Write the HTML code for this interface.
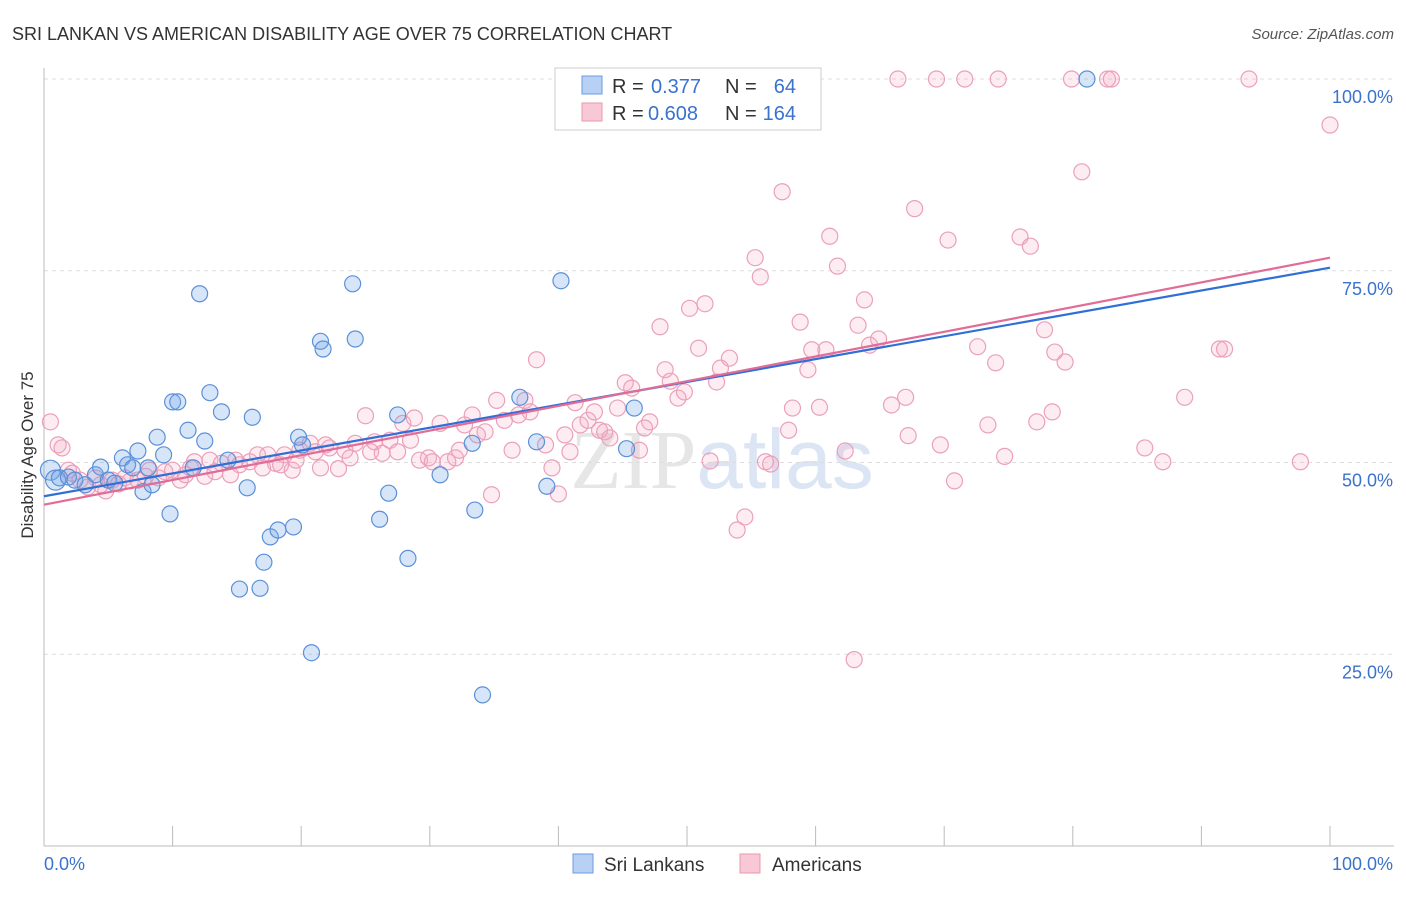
<!DOCTYPE html>
<html><head><meta charset="utf-8"><style>
body{margin:0;background:#fff;font-family:"Liberation Sans",sans-serif;}
svg text{font-family:"Liberation Sans",sans-serif;}
</style></head><body>
<svg id="chart" width="1406" height="892" xmlns="http://www.w3.org/2000/svg">
<text x="12" y="40" font-size="18" fill="#333">SRI LANKAN VS AMERICAN DISABILITY AGE OVER 75 CORRELATION CHART</text>
<text x="1394" y="39" font-size="15" fill="#555" text-anchor="end" font-style="italic">Source: ZipAtlas.com</text>
<text x="722" y="488" font-size="84" text-anchor="middle"><tspan fill="#e6e6e6" font-family="Liberation Serif">ZIP</tspan><tspan fill="#dbe5f4">atlas</tspan></text>
<g id="grid"></g>
<g id="axes"></g>
<g id="pts"></g>
<g id="trends"></g>
<text transform="translate(33,455) rotate(-90)" font-size="17" fill="#333" text-anchor="middle">Disability Age Over 75</text>
<g>
<rect x="555" y="68" width="266" height="62" fill="#fff" stroke="#ccc"/>
<rect x="582" y="76" width="20" height="18" fill="#b8d0f3" stroke="#6a9be0"/>
<text x="612" y="93" font-size="20" fill="#333">R =</text>
<text x="651" y="93" font-size="20" fill="#3a72cc">0.377</text>
<text x="725" y="93" font-size="20" fill="#333">N =</text>
<text x="796" y="93" font-size="20" fill="#3a72cc" text-anchor="end">64</text>
<rect x="582" y="103" width="20" height="18" fill="#f8c8d6" stroke="#e899b2"/>
<text x="612" y="120" font-size="20" fill="#333">R =</text>
<text x="648" y="120" font-size="20" fill="#3a72cc">0.608</text>
<text x="725" y="120" font-size="20" fill="#333">N =</text>
<text x="796" y="120" font-size="20" fill="#3a72cc" text-anchor="end">164</text>
</g>
<g>
<rect x="573" y="854" width="20" height="19" fill="#b8d0f3" stroke="#6a9be0"/>
<text x="604" y="871" font-size="19" fill="#333">Sri Lankans</text>
<rect x="740" y="854" width="20" height="19" fill="#f8c8d6" stroke="#e899b2"/>
<text x="772" y="871" font-size="19" fill="#333">Americans</text>
</g>
</svg>
<script>
const yTicks=[25,50,75,100];
const yTickLabels=["25.0%","50.0%","75.0%","100.0%"];
const blueX=[0.5,0.9,1.2,1.9,2.4,3.2,4.0,4.4,5.0,5.5,6.1,6.5,6.9,7.3,7.7,8.1,8.4,8.8,9.3,9.8,10.0,10.4,11.2,11.6,12.1,12.5,12.9,13.8,14.3,15.8,16.2,17.1,15.2,16.8,17.6,18.2,19.4,19.8,20.1,20.8,21.5,21.7,24.0,24.2,26.1,26.8,27.5,28.3,30.8,33.3,33.5,34.1,37.0,38.3,39.1,40.2,45.3,45.9,81.1];
const blueY=[49.0,47.7,48.0,48.1,47.7,47.1,48.4,49.4,47.7,47.3,50.6,49.7,49.3,51.5,46.2,49.3,47.1,53.3,51.0,43.3,57.9,57.9,54.2,49.3,72.0,52.8,59.1,56.6,50.3,46.7,55.9,37.0,33.5,33.6,40.3,41.2,41.6,53.3,52.3,25.2,65.8,64.8,73.3,66.1,42.6,46.0,56.2,37.5,48.4,52.5,43.8,19.7,58.5,52.7,46.9,73.7,51.8,57.1,100];
const pinkX=[0.5,1.1,1.4,1.9,2.2,2.8,3.4,4.0,4.4,4.8,5.3,5.8,6.3,6.7,7.3,7.9,8.2,8.9,9.4,10.0,10.6,11.0,11.4,11.7,12.5,12.9,13.3,13.8,14.5,14.9,15.2,16.0,16.6,17.0,17.4,18.0,18.4,18.7,19.3,19.6,19.9,20.7,21.1,21.5,21.9,22.2,22.9,23.4,23.8,24.2,25.0,25.4,25.7,26.3,26.9,27.5,27.9,28.5,28.8,29.2,29.9,30.2,30.8,31.4,32.0,32.3,32.7,33.3,33.7,34.3,34.8,35.2,35.8,36.4,36.9,37.4,37.8,38.3,39.0,39.5,40.0,40.5,40.9,41.3,41.7,42.3,42.8,43.2,43.6,44.0,44.6,45.2,45.7,46.3,46.7,47.1,47.9,48.3,48.7,49.3,49.8,50.2,50.9,51.4,51.8,52.3,52.6,53.3,53.9,54.5,55.3,55.7,56.1,56.5,57.4,57.9,58.2,58.8,59.4,59.7,60.3,60.8,61.1,61.7,62.3,63.0,63.3,63.8,64.2,64.9,65.9,66.4,67.0,67.2,67.7,69.4,69.7,70.3,70.8,71.6,72.6,73.4,74.0,74.2,74.7,75.9,76.7,77.2,77.8,78.4,78.6,79.4,79.9,80.7,82.7,83.0,85.6,87.0,88.7,91.4,91.8,93.7,97.7,100];
const pinkY=[55.3,52.3,51.9,49.0,48.6,47.7,46.8,48.0,47.1,46.3,47.7,47.2,48.0,47.6,47.7,48.2,49.0,48.0,48.8,49.0,47.7,48.4,49.3,50.1,48.2,50.3,48.8,49.9,48.4,50.3,49.7,50.1,51.0,49.3,51.0,49.9,49.7,51.0,49.0,50.3,51.6,52.5,51.4,49.3,52.3,51.9,49.2,51.6,50.6,52.5,56.1,51.4,52.7,51.2,52.9,51.4,55.1,52.9,55.8,50.3,50.6,50.1,55.1,50.1,50.6,51.6,54.9,56.2,53.6,54.0,45.8,58.1,55.5,51.6,56.2,58.1,56.6,63.4,52.3,49.3,45.9,53.6,51.4,57.8,54.9,55.5,56.6,54.2,54.0,53.2,57.1,60.4,59.7,51.6,54.5,55.3,67.7,62.1,60.6,58.4,59.2,70.1,64.9,70.7,50.2,60.5,62.3,63.6,41.2,42.9,76.7,74.2,50.1,49.8,85.3,54.2,57.1,68.3,62.1,64.7,57.2,64.7,79.5,75.6,51.5,24.3,67.9,71.2,65.3,66.1,57.5,100,58.5,53.5,83.1,100,52.3,79.0,47.6,100,65.1,54.9,63.0,100,50.8,79.4,78.2,55.3,67.3,56.6,64.4,63.1,100,87.9,100,100,51.9,50.1,58.5,64.8,64.8,100,50.1,94.0];
const blueTrend=[45.6,75.4];
const pinkTrend=[44.5,76.7];
const NS="http://www.w3.org/2000/svg";
const X0=44,X1=1330,Y0=846,Y100=79;
const xs=v=>X0+(X1-X0)*v/100;
const ys=v=>Y0-(Y0-Y100)*v/100;
function mk(tag,attrs,parent){const e=document.createElementNS(NS,tag);for(const k in attrs)e.setAttribute(k,attrs[k]);parent.appendChild(e);return e;}
const grid=document.getElementById('grid'),axes=document.getElementById('axes'),pts=document.getElementById('pts'),tr=document.getElementById('trends');
yTicks.forEach((t,i)=>{
 const l=mk('line',{x1:44,x2:1394,y1:ys(t),y2:ys(t),stroke:'#ddd','stroke-dasharray':'4,4'},grid);
 
 
 const tx=mk('text',{x:1393,y:ys(t)+24,'font-size':18,fill:'#3a72cc','text-anchor':'end'},grid);
 tx.textContent=yTickLabels[i];
 
 
});
const ax=mk('line',{x1:44,x2:1394,y1:846,y2:846,stroke:'#bbb'},axes);


const ay=mk('line',{x1:44,x2:44,y1:68,y2:846,stroke:'#bbb'},axes);


for(let i=0;i<=10;i++){
 const tk=mk('line',{x1:xs(i*10),x2:xs(i*10),y1:826,y2:846,stroke:'#bbb'},axes);
 
 
}
const xl0=mk('text',{x:44,y:870,'font-size':18,fill:'#3a72cc'},axes);xl0.textContent='0.0%';


const xl1=mk('text',{x:1393,y:870,'font-size':18,fill:'#3a72cc','text-anchor':'end'},axes);xl1.textContent='100.0%';


pinkX.forEach((x,i)=>{
 const c=mk('circle',{cx:xs(x),cy:ys(pinkY[i]),r:8,fill:'rgba(245,170,195,0.22)',stroke:'#eba0b9','stroke-width':1.2},pts);
 
 
});
blueX.forEach((x,i)=>{
 const c=mk('circle',{cx:xs(x),cy:ys(blueY[i]),r:i<2?10:8,fill:'rgba(110,160,230,0.28)',stroke:'#5b90d8','stroke-width':1.2},pts);
 
 
});
const bl=mk('line',{x1:xs(0),y1:ys(blueTrend[0]),x2:xs(100),y2:ys(blueTrend[1]),stroke:'#2f6fd6','stroke-width':2.2},tr);


const pl=mk('line',{x1:xs(0),y1:ys(pinkTrend[0]),x2:xs(100),y2:ys(pinkTrend[1]),stroke:'#e06c98','stroke-width':2.2},tr);


</script>
</body></html>
